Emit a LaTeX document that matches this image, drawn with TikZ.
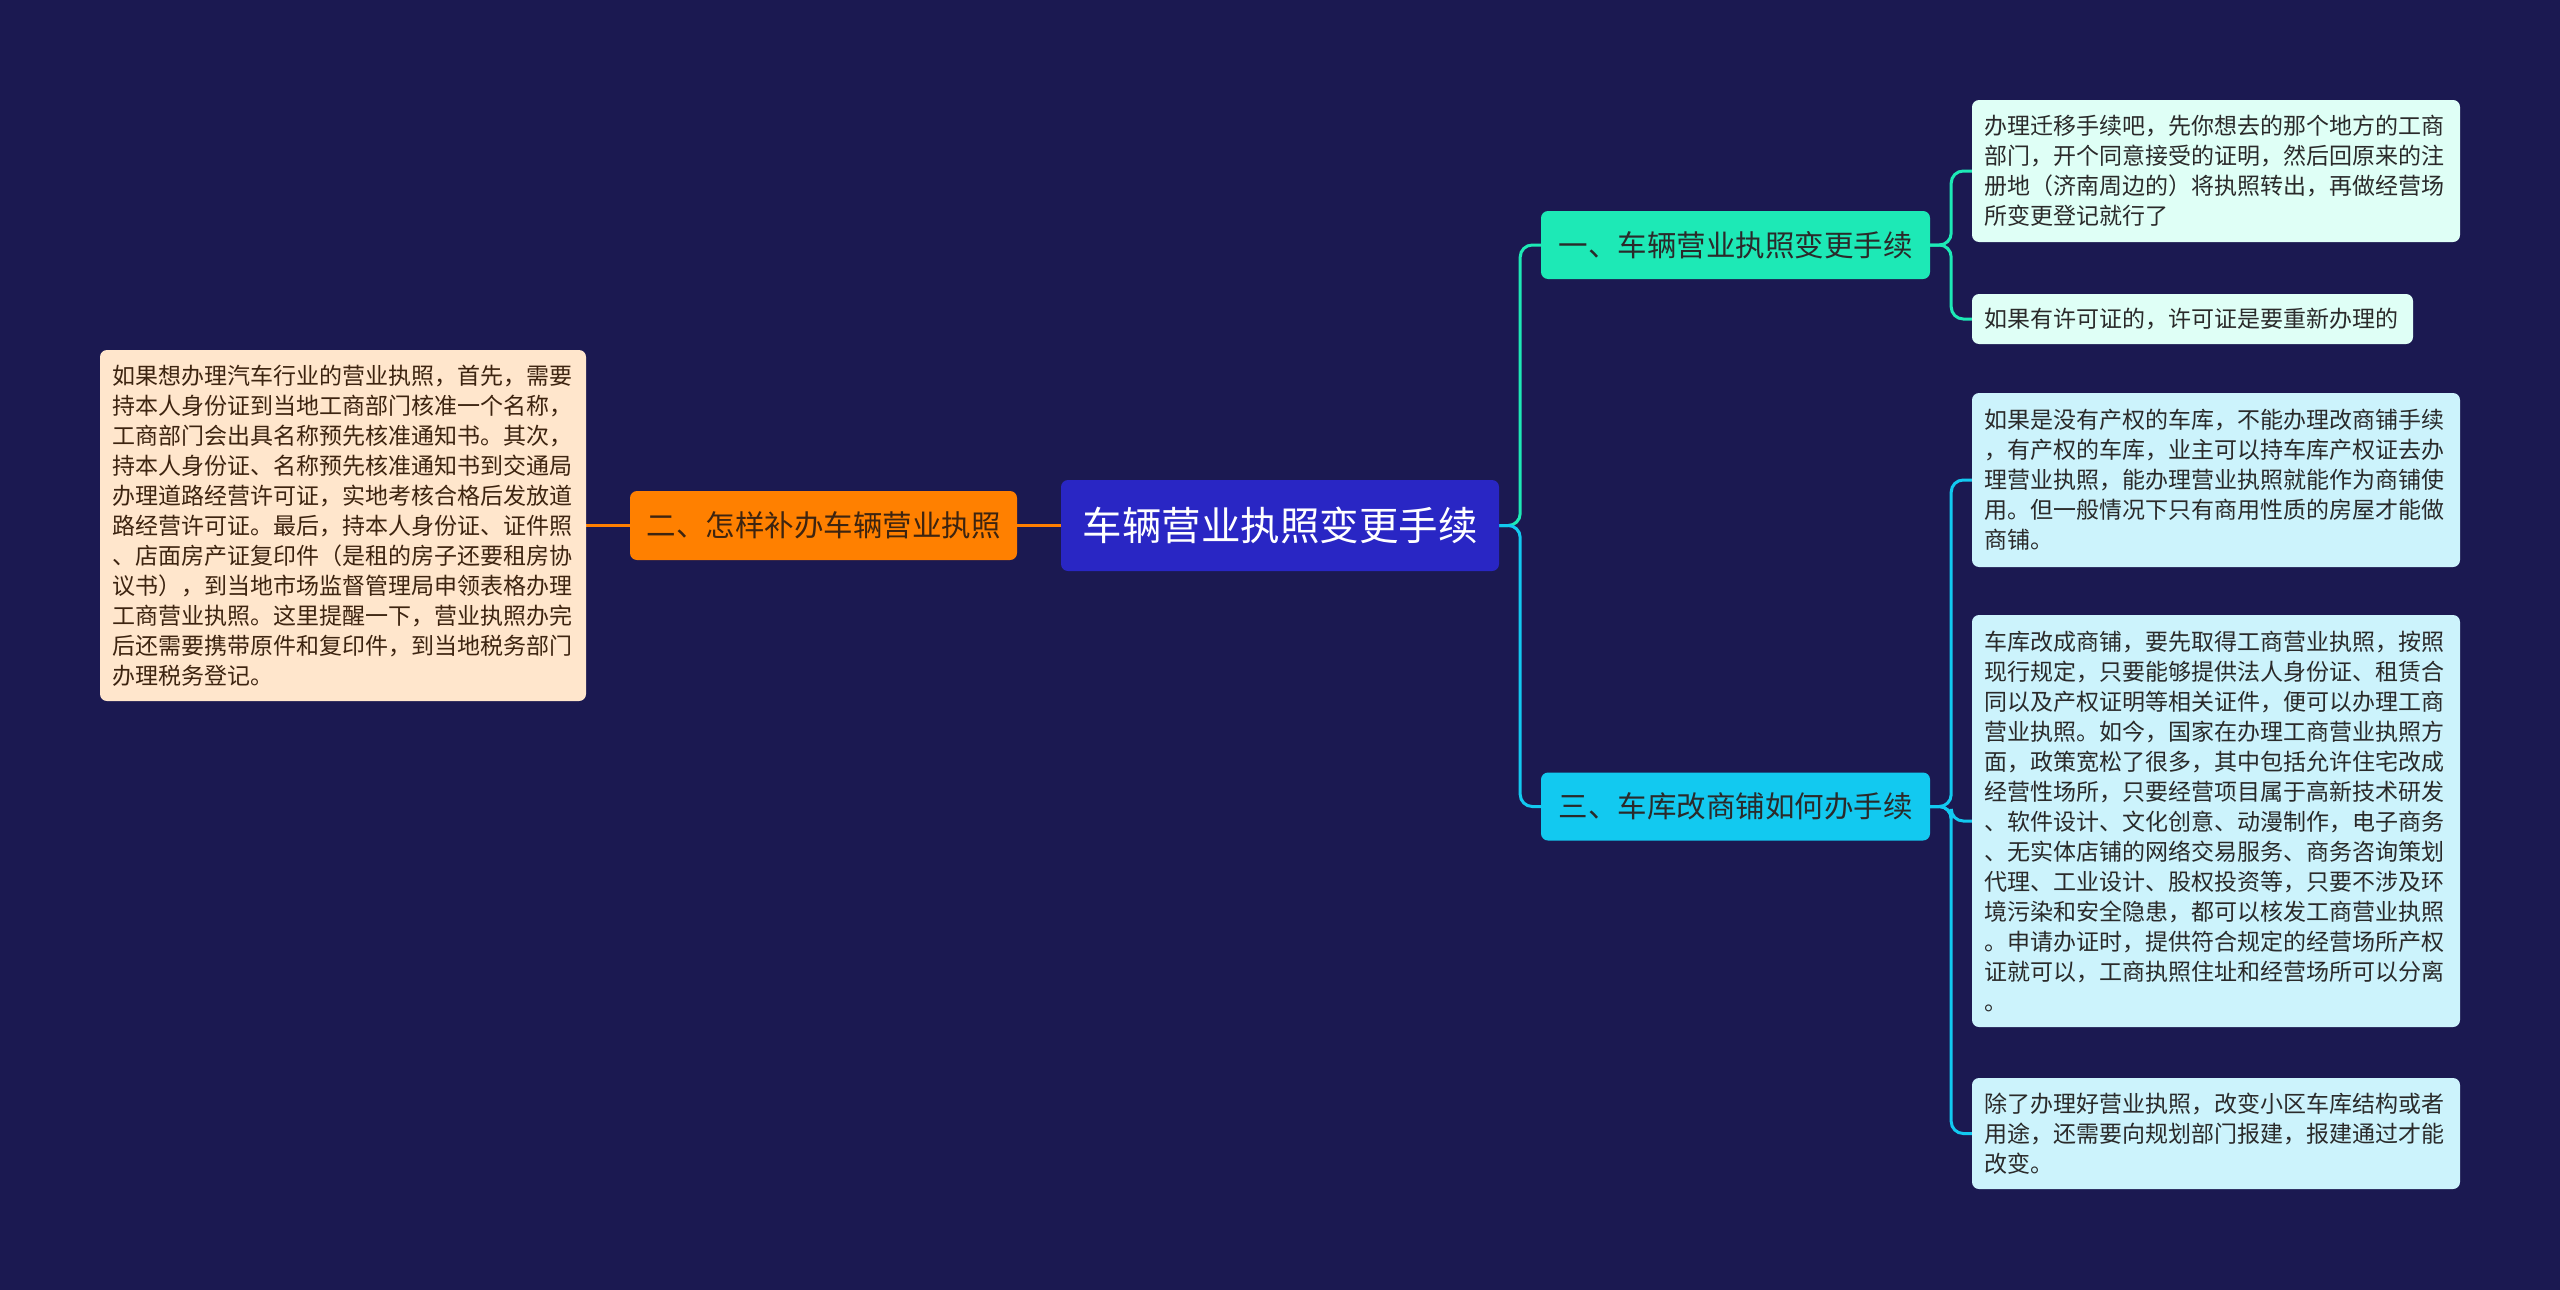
\documentclass[tikz,border=0pt]{standalone}
\usepackage{fontspec}
\setmainfont{Noto Sans CJK SC}
\usetikzlibrary{backgrounds}
\definecolor{bg}{HTML}{1B1951}
\definecolor{cmain}{HTML}{2926C4}
\definecolor{corange}{HTML}{FF8000}
\definecolor{cpeach}{HTML}{FFE6CC}
\definecolor{cteal}{HTML}{1DE9B6}
\definecolor{cmint}{HTML}{DFFFF6}
\definecolor{ccyan}{HTML}{12C9F0}
\definecolor{clcyan}{HTML}{CCF3FC}
\definecolor{tdark}{HTML}{2A2A2A}
\definecolor{tbrown}{HTML}{3D2410}
\tikzset{
  box/.style={rounded corners=7pt, inner xsep=12pt, inner ysep=0pt, align=left},
  leaf/.style={box, font=\fontsize{23}{30}\selectfont, text=tdark},
  branchbox/.style={box, align=center, font=\fontsize{29.5}{34}\selectfont, minimum height=68pt, minimum width=389pt},
  link/.style={line width=3pt, rounded corners=12pt},
}
\begin{document}
\begin{tikzpicture}[x=1pt,y=-1pt]
\useasboundingbox (0,0) rectangle (2560,1290);
\begin{scope}[on background layer]
\fill[bg] (0,0) rectangle (2560,1290);
\end{scope}

% centre
\node[box, fill=cmain, text=white, align=center, minimum width=438pt, minimum height=91pt,
  font=\fontsize{39.5}{44}\selectfont] (c) at (1280,525.5) {车辆营业执照变更手续};

% left side
\node[branchbox, fill=corange, text=tbrown, minimum width=387pt, minimum height=69pt] (o) at (823.5,525.5) {二、怎样补办车辆营业执照};
\node[leaf, fill=cpeach, text=tbrown, text width=462pt, minimum width=486pt, minimum height=351pt] (ll) at (343,525.5) {如果想办理汽车行业的营业执照，首先，需要\\持本人身份证到当地工商部门核准一个名称，\\工商部门会出具名称预先核准通知书。其次，\\持本人身份证、名称预先核准通知书到交通局\\办理道路经营许可证，实地考核合格后发放道\\路经营许可证。最后，持本人身份证、证件照\\、店面房产证复印件（是租的房子还要租房协\\议书），到当地市场监督管理局申领表格办理\\工商营业执照。这里提醒一下，营业执照办完\\后还需要携带原件和复印件，到当地税务部门\\办理税务登记。};

% right branch 1
\node[branchbox, fill=cteal, text=tdark] (b1) at (1735.5,245) {一、车辆营业执照变更手续};
\node[leaf, fill=cmint, text width=464pt, minimum width=488pt, minimum height=142pt] (l1a) at (2216,171) {办理迁移手续吧，先你想去的那个地方的工商\\部门，开个同意接受的证明，然后回原来的注\\册地（济南周边的）将执照转出，再做经营场\\所变更登记就行了};
\node[leaf, fill=cmint, text width=417pt, minimum width=441pt, minimum height=50pt] (l1b) at (2192.5,319) {如果有许可证的，许可证是要重新办理的};

% right branch 3
\node[branchbox, fill=ccyan, text=tdark] (b3) at (1735.5,806.5) {三、车库改商铺如何办手续};
\node[leaf, fill=clcyan, text width=464pt, minimum width=488pt, minimum height=174pt] (l3a) at (2216,480) {如果是没有产权的车库，不能办理改商铺手续\\，有产权的车库，业主可以持车库产权证去办\\理营业执照，能办理营业执照就能作为商铺使\\用。但一般情况下只有商用性质的房屋才能做\\商铺。};
\node[leaf, fill=clcyan, text width=464pt, minimum width=488pt, minimum height=412pt] (l3b) at (2216,821) {车库改成商铺，要先取得工商营业执照，按照\\现行规定，只要能够提供法人身份证、租赁合\\同以及产权证明等相关证件，便可以办理工商\\营业执照。如今，国家在办理工商营业执照方\\面，政策宽松了很多，其中包括允许住宅改成\\经营性场所，只要经营项目属于高新技术研发\\、软件设计、文化创意、动漫制作，电子商务\\、无实体店铺的网络交易服务、商务咨询策划\\代理、工业设计、股权投资等，只要不涉及环\\境污染和安全隐患，都可以核发工商营业执照\\。申请办证时，提供符合规定的经营场所产权\\证就可以，工商执照住址和经营场所可以分离\\。};
\node[leaf, fill=clcyan, text width=464pt, minimum width=488pt, minimum height=111pt] (l3c) at (2216,1133.5) {除了办理好营业执照，改变小区车库结构或者\\用途，还需要向规划部门报建，报建通过才能\\改变。};

% connectors
\coordinate (jc) at ([xshift=21pt]c.east);
\coordinate (j1) at ([xshift=21pt]b1.east);
\coordinate (j3) at ([xshift=21pt]b3.east);
\begin{scope}[on background layer]
\draw[link, draw=corange] (c.west) -- (o.east);
\draw[link, draw=corange] (o.west) -- (ll.east);
\draw[link, draw=cteal] (c.east) -- (jc) |- (b1.west);
\draw[link, draw=ccyan] (c.east) -- (jc) |- (b3.west);
\draw[link, draw=cteal] (b1.east) -- (j1) |- (l1a.west);
\draw[link, draw=cteal] (b1.east) -- (j1) |- (l1b.west);
\draw[link, draw=ccyan] (b3.east) -- (j3) |- (l3a.west);
\draw[link, draw=ccyan] (b3.east) -- (j3) |- (l3b.west);
\draw[link, draw=ccyan] (b3.east) -- (j3) |- (l3c.west);
\end{scope}
\end{tikzpicture}
\end{document}
